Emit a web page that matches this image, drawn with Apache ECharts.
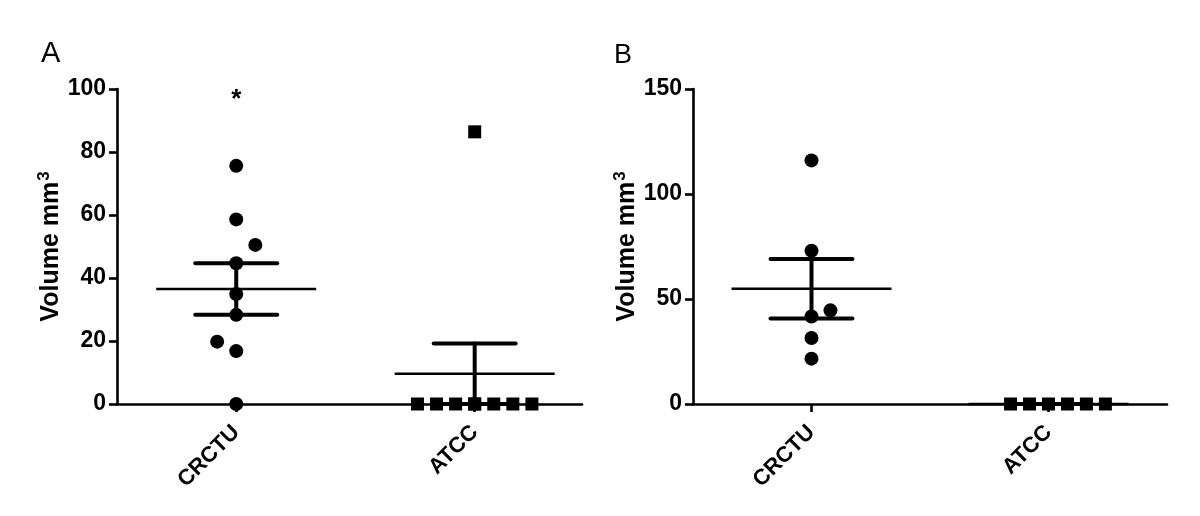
<!DOCTYPE html>
<html>
<head>
<meta charset="utf-8">
<script src="https://cdn.jsdelivr.net/npm/echarts@6/dist/echarts.min.js"></script>
<style>html,body{margin:0;padding:0;background:#fff}#c{width:1200px;height:516px}</style>
</head>
<body>
<div id="c"></div>
<script>
// ---- data ----
var categories = ['CRCTU', 'ATCC'];
var panelLabels = ['A', 'B'];
var yTitle = 'Volume mm';
var yTitleSup = '3';

// Panel A
var aCrctuValues = [75.6, 58.6, 50.5, 44.7, 34.9, 28.3, 19.8, 16.8, 0];
var aCrctuJitter = [0, 0, 1, 0, 0, 0, -1, 0, 0];
var aAtccValues = [86.4, 0, 0, 0, 0, 0, 0, 0, 0];
var aAtccJitter = [0, -3, -2, -1, 0, 0, 1, 2, 3];
var aMeans = [36.5, 9.6];
var aSems = [8.2, 9.6];
var aSignificance = [{ cat: 0, value: 98.8, text: '*' }];
var aYTicks = { min: 0, max: 100, interval: 20 };

// Panel B
var bCrctuValues = [116, 73, 44.6, 41.7, 31.4, 21.6];
var bCrctuJitter = [0, 0, 1, 0, 0, 0];
var bAtccValues = [0, 0, 0, 0, 0, 0];
var bAtccJitter = [-2, -1, 0, 1, 2, 3];
var bMeans = [54.9, 0];
var bSems = [14.2, 0];
var bYTicks = { min: 0, max: 150, interval: 50 };

// ---- chart ----
var JITTER = 0.08;
var FONT = 'Liberation Sans, Arial, sans-serif';

function pts(catIdx, vals, jit) {
  return vals.map(function (v, i) { return [catIdx + 1 + jit[i] * JITTER, v]; });
}
function statData(means, sems) {
  return means.map(function (m, i) { return [i + 1, m, sems[i]]; });
}
function renderErr(params, api) {
  var x = api.value(0), m = api.value(1), s = api.value(2);
  var c = api.coord([x, m]);
  var t = api.coord([x, m + s]);
  var b = api.coord([x, m - s]);
  var thick = { stroke: '#000', lineWidth: 4, lineCap: 'round' };
  var thin = { stroke: '#000', lineWidth: 2.6 };
  var kids = [
    { type: 'line', shape: { x1: c[0] - 80, y1: c[1], x2: c[0] + 80, y2: c[1] }, style: thin },
    { type: 'line', shape: { x1: t[0], y1: t[1], x2: b[0], y2: b[1] }, style: thick },
    { type: 'line', shape: { x1: t[0] - 41, y1: t[1], x2: t[0] + 41, y2: t[1] }, style: thick }
  ];
  if (m - s >= 0) {
    kids.push({ type: 'line', shape: { x1: b[0] - 41, y1: b[1], x2: b[0] + 41, y2: b[1] }, style: thick });
  }
  return { type: 'group', children: kids };
}

function xAxisFor(gridIndex, max) {
  return {
    gridIndex: gridIndex, type: 'value', min: 0.5, max: max,
    splitLine: { show: false },
    axisLine: { show: true, onZero: false, lineStyle: { color: '#000', width: 2.6 } },
    axisTick: { show: true, customValues: [1, 2], length: 8, lineStyle: { color: '#000', width: 2.6 } },
    axisLabel: {
      show: true, customValues: [1, 2], rotate: 45, margin: 25,
      color: '#000', fontFamily: FONT, fontWeight: 'bold', fontSize: 22,
      formatter: function (v) { return categories[Math.round(v) - 1]; }
    }
  };
}
function yAxisFor(gridIndex, t) {
  return {
    gridIndex: gridIndex, type: 'value', min: t.min, max: t.max, interval: t.interval,
    splitLine: { show: false },
    axisLine: { show: true, lineStyle: { color: '#000', width: 2.6 } },
    axisTick: { show: true, length: 8, lineStyle: { color: '#000', width: 2.6 } },
    axisLabel: { margin: 11, color: '#000', fontFamily: FONT, fontWeight: 'bold', fontSize: 23 },
    name: yTitle + '{sup|' + yTitleSup + '}',
    nameLocation: 'middle', nameGap: 50, nameRotate: 90,
    nameTextStyle: {
      color: '#000', fontFamily: FONT, fontWeight: 'bold', fontSize: 25,
      rich: { sup: { fontSize: 17, fontWeight: 'bold', fontFamily: FONT, color: '#000', verticalAlign: 'top', padding: [0, 0, 14, 1] } }
    }
  };
}

var dotStyle = { color: '#000', opacity: 1 };
var option = {
  animation: false,
  backgroundColor: '#fff',
  title: [
    { text: panelLabels[0], left: 36, top: 34, textStyle: { fontFamily: FONT, fontWeight: 'normal', fontSize: 29, color: '#000' } },
    { text: panelLabels[1], left: 609, top: 37, textStyle: { fontFamily: FONT, fontWeight: 'normal', fontSize: 27, color: '#000' } }
  ],
  grid: [
    { left: 117, top: 89, width: 465, height: 315 },
    { left: 693, top: 89, width: 474, height: 315 }
  ],
  xAxis: [xAxisFor(0, 2.45), xAxisFor(1, 2.5)],
  yAxis: [yAxisFor(0, aYTicks), yAxisFor(1, bYTicks)],
  series: [
    { type: 'custom', xAxisIndex: 0, yAxisIndex: 0, renderItem: renderErr, data: statData(aMeans, aSems), encode: { x: 0, y: 1 }, clip: false, z: 2 },
    { type: 'custom', xAxisIndex: 1, yAxisIndex: 1, renderItem: renderErr, data: statData(bMeans, bSems), encode: { x: 0, y: 1 }, clip: false, z: 2 },
    { type: 'scatter', xAxisIndex: 0, yAxisIndex: 0, symbol: 'circle', symbolSize: 14, itemStyle: dotStyle, data: pts(0, aCrctuValues, aCrctuJitter), clip: false, z: 3 },
    { type: 'scatter', xAxisIndex: 0, yAxisIndex: 0, symbol: 'rect', symbolSize: 13, itemStyle: dotStyle, data: pts(1, aAtccValues, aAtccJitter), clip: false, z: 3 },
    { type: 'scatter', xAxisIndex: 1, yAxisIndex: 1, symbol: 'circle', symbolSize: 14, itemStyle: dotStyle, data: pts(0, bCrctuValues, bCrctuJitter), clip: false, z: 3 },
    { type: 'scatter', xAxisIndex: 1, yAxisIndex: 1, symbol: 'rect', symbolSize: 13, itemStyle: dotStyle, data: pts(1, bAtccValues, bAtccJitter), clip: false, z: 3 },
    {
      type: 'scatter', xAxisIndex: 0, yAxisIndex: 0, symbolSize: 0, clip: false, z: 4,
      itemStyle: { opacity: 1 },
      data: aSignificance.map(function (s) { return { value: [s.cat + 1, s.value], name: s.text }; }),
      label: { show: true, position: 'inside', formatter: function (p) { return p.name; }, color: '#000', fontFamily: FONT, fontWeight: 'bold', fontSize: 26, offset: [0, 7] }
    }
  ]
};
var chart = echarts.init(document.getElementById('c'), null, { renderer: 'canvas' });
chart.setOption(option);
</script>
</body>
</html>
